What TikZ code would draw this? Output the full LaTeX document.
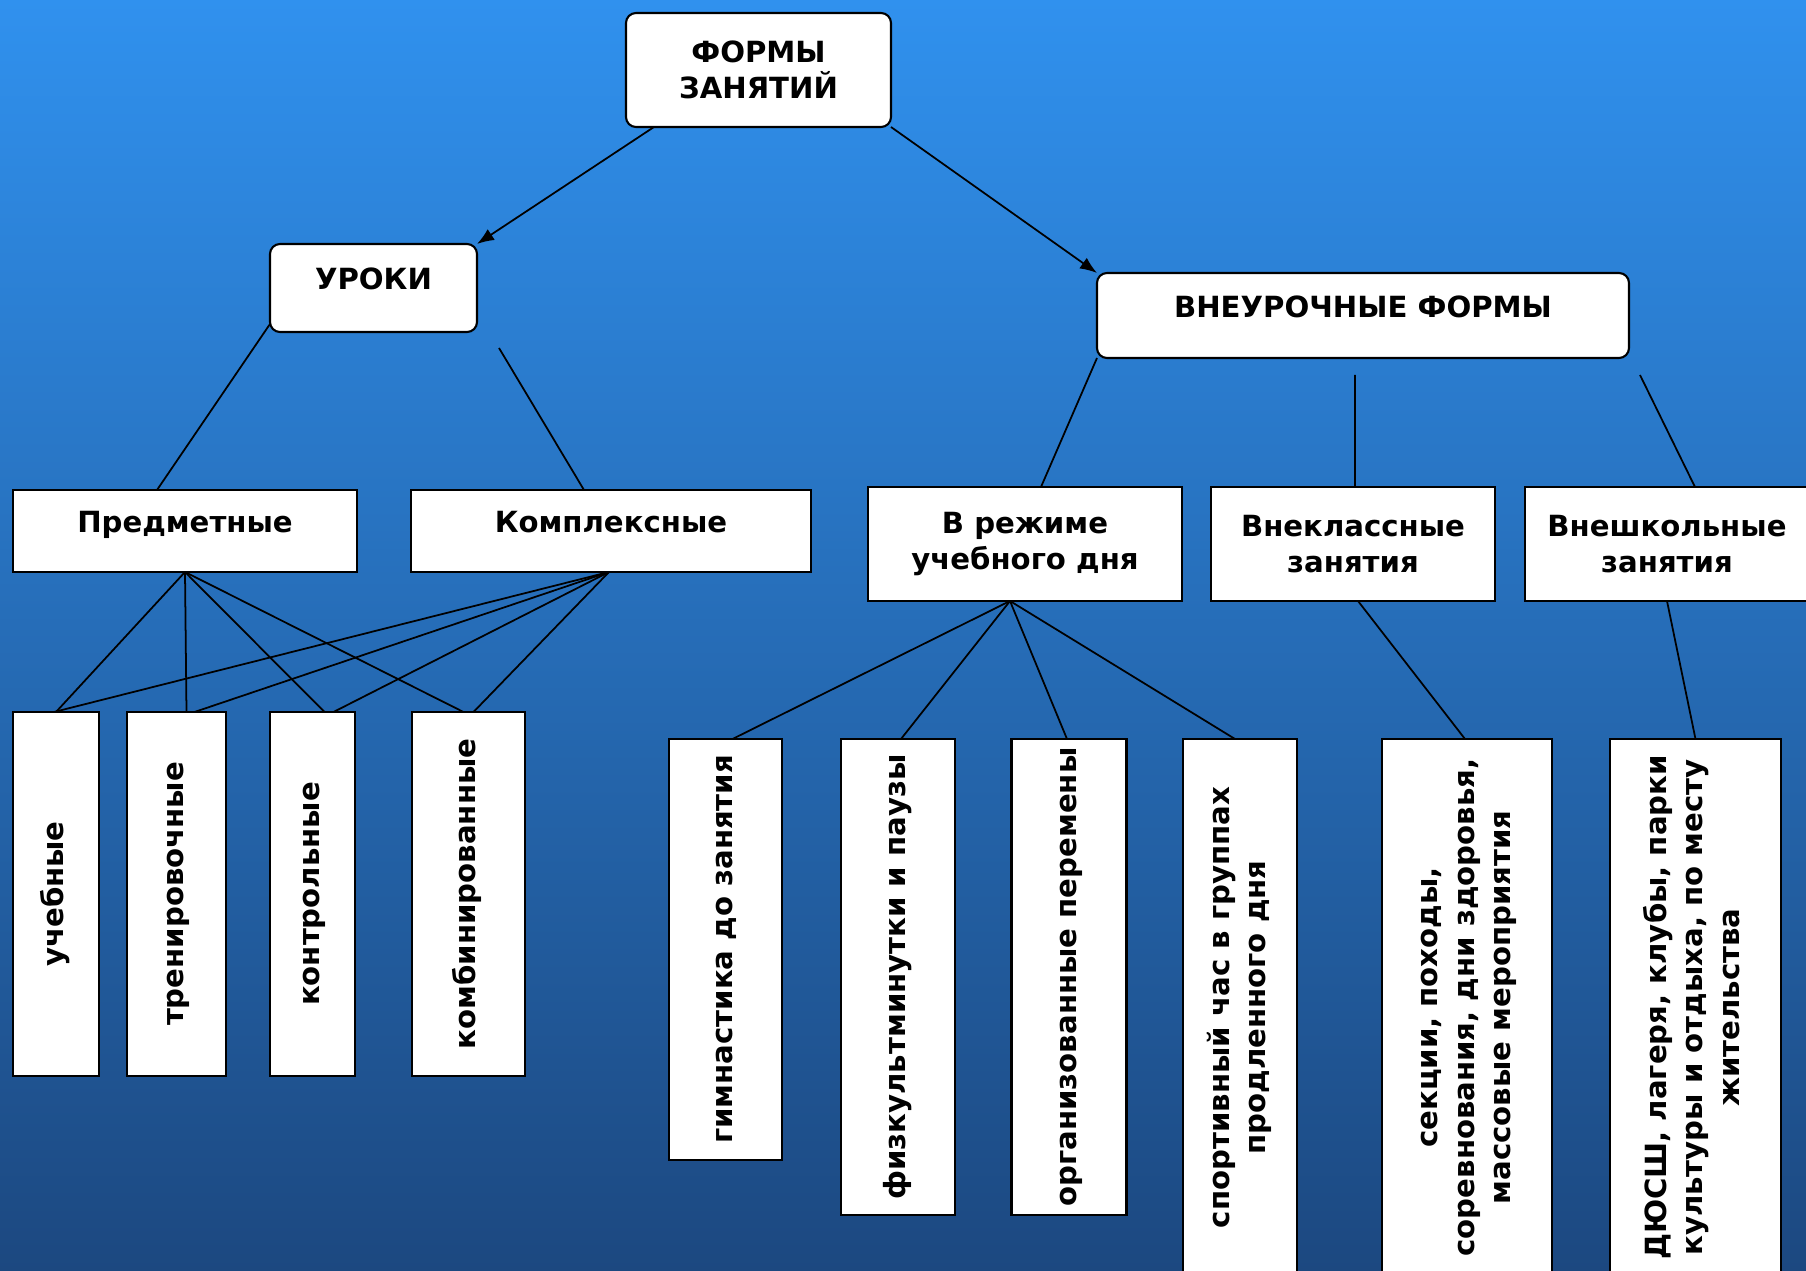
\documentclass[tikz,border=0pt]{standalone}
\usepackage{fontspec}
\usepackage{graphicx}
\setmainfont{DejaVu Sans}
\usetikzlibrary{arrows.meta,calc}
\definecolor{bg_top}{RGB}{48, 145, 238}
\definecolor{bg_bot}{RGB}{28, 72, 128}
\tikzstyle{rb}=[rectangle,rounded corners=0.1cm,fill=white,draw=black,
  line width=0.6pt,inner sep=0pt,outer sep=0pt,align=center,
  font=\bfseries\fontsize{8.3}{10.4}\selectfont]
\tikzstyle{wb}=[rectangle,fill=white,draw=black,
  line width=0.6pt,inner sep=0pt,outer sep=0pt,align=center,
  font=\bfseries\fontsize{8.3}{10.4}\selectfont]
\tikzstyle{up}=[text height=0.22cm,text depth=0.18cm]
\tikzstyle{arr}=[-{Latex[length=0.17cm,width=0.13cm]}]
\tikzstyle{ln}=[line width=0.5pt,draw=black]
\newcommand{\vt}[1]{\rotatebox{90}{\begin{tabular}{@{}c@{}}#1\end{tabular}}}

\begin{document}
\begin{tikzpicture}
		\useasboundingbox (0, 0) rectangle (18.06, -12.71);
		\shade [top color=bg_top, bottom color=bg_bot] (0, 0) rectangle (18.06, -12.71);
		\node [style=rb, minimum width=2.65cm, minimum height=1.14cm] (0) at (7.585, -0.70) {ФОРМЫ\\ЗАНЯТИЙ};
		\node [style=rb, style=up, minimum width=2.07cm, minimum height=0.88cm] (1) at (3.735, -2.88) {УРОКИ};
		\node [style=rb, style=up, minimum width=5.32cm, minimum height=0.85cm] (2) at (13.63, -3.155) {ВНЕУРОЧНЫЕ ФОРМЫ};
		\node [style=wb, style=up, minimum width=3.44cm, minimum height=0.82cm] (3) at (1.85, -5.31) {Предметные};
		\node [style=wb, style=up, minimum width=4.00cm, minimum height=0.82cm] (4) at (6.11, -5.31) {Комплексные};
		\node [style=wb, minimum width=3.14cm, minimum height=1.14cm] (5) at (10.25, -5.44) {В режиме\\учебного дня};
		\node [style=wb, minimum width=2.84cm, minimum height=1.14cm] (6) at (13.53, -5.44) {Внеклассные\\занятия};
		\node [style=wb, minimum width=2.84cm, minimum height=1.14cm] (7) at (16.67, -5.44) {Внешкольные\\занятия};
		\node [style=wb, minimum width=0.86cm, minimum height=3.64cm] (8) at (0.56, -8.94) {\vt{учебные}};
		\node [style=wb, minimum width=0.99cm, minimum height=3.64cm] (9) at (1.765, -8.94) {\vt{тренировочные}};
		\node [style=wb, minimum width=0.85cm, minimum height=3.64cm] (10) at (3.125, -8.94) {\vt{контрольные}};
		\node [style=wb, minimum width=1.13cm, minimum height=3.64cm] (11) at (4.685, -8.94) {\vt{комбинированные}};
		\node [style=wb, minimum width=1.13cm, minimum height=4.21cm] (12) at (7.255, -9.495) {\vt{гимнастика до занятия}};
		\node [style=wb, minimum width=1.14cm, minimum height=4.76cm] (13) at (8.98, -9.77) {\vt{физкультминутки и паузы}};
		\node [style=wb, minimum width=1.15cm, minimum height=4.76cm] (14) at (10.69, -9.77) {\vt{организованные перемены}};
		\node [style=wb, minimum width=1.14cm, minimum height=5.37cm] (15) at (12.40, -10.075) {\vt{спортивный час в группах\\продленного дня}};
		\node [style=wb, minimum width=1.70cm, minimum height=5.37cm] (16) at (14.67, -10.075) {\vt{секции, походы,\\соревнования, дни здоровья,\\массовые мероприятия}};
		\node [style=wb, minimum width=1.71cm, minimum height=5.37cm] (17) at (16.955, -10.075) {\vt{ДЮСШ, лагеря, клубы, парки\\культуры и отдыха, по месту\\жительства}};
		\draw [style=ln, style=arr] ([xshift=0.28cm]0.south west) to (1.north east);
		\draw [style=ln, style=arr] (0.south east) to (2.north west);
		\draw [style=ln] ([yshift=0.08cm]1.south west) to ([xshift=-0.28cm]3.north);
		\draw [style=ln] ([xshift=0.22cm, yshift=-0.16cm]1.south east) to ([xshift=-0.27cm]4.north);
		\draw [style=ln] (2.south west) to ([xshift=0.16cm]5.north);
		\draw [style=ln] ([xshift=-0.08cm, yshift=-0.17cm]2.south) to ([xshift=0.02cm]6.north);
		\draw [style=ln] ([xshift=0.11cm, yshift=-0.17cm]2.south east) to ([xshift=0.28cm]7.north);
		\draw [style=ln] (3.south) to (8.north);
		\draw [style=ln] (3.south) to ([xshift=0.1cm]9.north);
		\draw [style=ln] (3.south) to ([xshift=0.12cm]10.north);
		\draw [style=ln] (3.south) to ([xshift=-0.05cm]11.north);
		\draw [style=ln] ([xshift=-0.02cm]4.south) to ([xshift=-0.02cm]8.north);
		\draw [style=ln] ([xshift=-0.02cm]4.south) to ([xshift=0.18cm]9.north);
		\draw [style=ln] ([xshift=-0.02cm]4.south) to ([xshift=0.21cm]10.north);
		\draw [style=ln] ([xshift=-0.02cm]4.south) to ([xshift=0.05cm]11.north);
		\draw [style=ln] ([xshift=-0.15cm]5.south) to ([xshift=0.07cm]12.north);
		\draw [style=ln] ([xshift=-0.15cm]5.south) to ([xshift=0.03cm]13.north);
		\draw [style=ln] ([xshift=-0.15cm]5.south) to ([xshift=-0.02cm]14.north);
		\draw [style=ln] ([xshift=-0.15cm]5.south) to ([xshift=-0.05cm]15.north);
		\draw [style=ln] ([xshift=0.05cm]6.south) to ([xshift=-0.02cm]16.north);
		\draw [style=ln] (7.south) to (17.north);
\end{tikzpicture}
\end{document}
